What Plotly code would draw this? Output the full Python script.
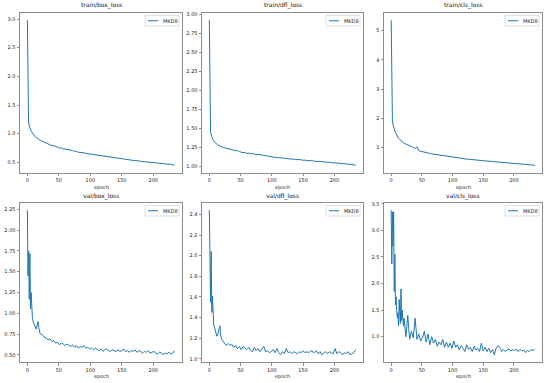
import plotly.graph_objects as go

# ---------------- data ----------------
EPOCHS_EARLY = list(range(0, 21))
EPOCHS_LATE = list(range(21, 235, 3))
EPOCHS = EPOCHS_EARLY + EPOCHS_LATE

SERIES_NAME = "MKD8"

train_box_early = [2.98, 1.32, 1.20, 1.13, 1.09, 1.07, 1.05, 1.03, 1.01, 0.99, 0.97,
                   0.96, 0.95, 0.94, 0.93, 0.925, 0.915, 0.91, 0.90, 0.895, 0.885]
train_box_late = [0.88, 0.865, 0.85, 0.84, 0.82, 0.815, 0.79, 0.79, 0.77, 0.765, 0.75,
                  0.75, 0.735, 0.73, 0.72, 0.715, 0.705, 0.705, 0.69, 0.69, 0.675, 0.675,
                  0.665, 0.665, 0.655, 0.65, 0.64, 0.645, 0.63, 0.63, 0.62, 0.62, 0.61,
                  0.61, 0.60, 0.60, 0.59, 0.59, 0.58, 0.58, 0.57, 0.57, 0.56, 0.565,
                  0.55, 0.553, 0.545, 0.545, 0.535, 0.535, 0.528, 0.53, 0.52, 0.52,
                  0.51, 0.512, 0.505, 0.505, 0.497, 0.50, 0.49, 0.492, 0.485, 0.485,
                  0.477, 0.478, 0.47, 0.472, 0.463, 0.465, 0.455, 0.448]

train_dfl_early = [2.92, 1.52, 1.46, 1.41, 1.38, 1.36, 1.345, 1.33, 1.32, 1.31, 1.30,
                   1.29, 1.285, 1.28, 1.275, 1.27, 1.27, 1.26, 1.265, 1.255, 1.25]
train_dfl_late = [1.25, 1.24, 1.235, 1.225, 1.23, 1.215, 1.21, 1.20, 1.205, 1.19, 1.18,
                  1.175, 1.18, 1.165, 1.17, 1.16, 1.165, 1.155, 1.15, 1.155, 1.145, 1.145,
                  1.14, 1.135, 1.13, 1.13, 1.12, 1.12, 1.115, 1.11, 1.11, 1.105, 1.105,
                  1.10, 1.10, 1.095, 1.095, 1.09, 1.09, 1.085, 1.085, 1.08, 1.082, 1.075,
                  1.078, 1.07, 1.072, 1.068, 1.07, 1.062, 1.065, 1.06, 1.06, 1.055,
                  1.057, 1.05, 1.052, 1.045, 1.048, 1.04, 1.043, 1.038, 1.04, 1.032,
                  1.035, 1.028, 1.03, 1.022, 1.025, 1.018, 1.02, 1.01]

train_cls_early = [5.35, 2.30, 1.95, 1.78, 1.68, 1.62, 1.57, 1.52, 1.47, 1.42, 1.38,
                   1.35, 1.32, 1.30, 1.28, 1.26, 1.24, 1.22, 1.20, 1.18, 1.16]
train_cls_late = [1.15, 1.12, 1.10, 1.07, 1.04, 1.01, 0.97, 1.03, 0.90, 0.88, 0.86,
                  0.85, 0.83, 0.81, 0.80, 0.79, 0.78, 0.77, 0.75, 0.75, 0.73, 0.72,
                  0.71, 0.70, 0.69, 0.68, 0.67, 0.665, 0.65, 0.645, 0.64, 0.63, 0.625,
                  0.62, 0.61, 0.60, 0.60, 0.59, 0.585, 0.58, 0.575, 0.57, 0.56, 0.555,
                  0.55, 0.545, 0.54, 0.535, 0.53, 0.52, 0.515, 0.51, 0.505, 0.50,
                  0.495, 0.49, 0.485, 0.48, 0.475, 0.47, 0.465, 0.46, 0.455, 0.45,
                  0.445, 0.44, 0.435, 0.43, 0.425, 0.42, 0.41, 0.40]

val_box_early = [2.24, 1.45, 1.75, 1.17, 1.72, 1.05, 1.25, 1.00, 0.95, 0.90, 0.88,
                 0.86, 0.83, 0.82, 0.81, 0.84, 0.86, 0.90, 0.83, 0.78, 0.76]
val_box_late = [0.75, 0.74, 0.71, 0.70, 0.68, 0.69, 0.66, 0.67, 0.64, 0.65, 0.62,
                0.64, 0.63, 0.61, 0.63, 0.61, 0.60, 0.62, 0.59, 0.61, 0.58, 0.60,
                0.59, 0.61, 0.58, 0.59, 0.57, 0.58, 0.56, 0.58, 0.56, 0.55, 0.57,
                0.54, 0.56, 0.57, 0.55, 0.54, 0.56, 0.55, 0.54, 0.56, 0.54, 0.55,
                0.57, 0.54, 0.55, 0.53, 0.55, 0.54, 0.56, 0.53, 0.55, 0.54, 0.52,
                0.54, 0.53, 0.55, 0.52, 0.53, 0.54, 0.52, 0.51, 0.53, 0.52, 0.50,
                0.52, 0.51, 0.53, 0.51, 0.52, 0.55]

val_dfl_early = [2.44, 1.90, 1.55, 2.04, 1.45, 1.61, 1.40, 1.33, 1.31, 1.29, 1.26,
                 1.24, 1.22, 1.23, 1.26, 1.29, 1.31, 1.32, 1.23, 1.20, 1.19]
val_dfl_late = [1.18, 1.16, 1.13, 1.15, 1.13, 1.14, 1.11, 1.13, 1.10, 1.12, 1.09,
                1.12, 1.10, 1.09, 1.11, 1.08, 1.07, 1.11, 1.08, 1.10, 1.07, 1.09,
                1.12, 1.07, 1.08, 1.06, 1.07, 1.09, 1.06, 1.10, 1.06, 1.04, 1.07,
                1.05, 1.10, 1.06, 1.07, 1.05, 1.07, 1.06, 1.05, 1.07, 1.06, 1.08,
                1.06, 1.07, 1.06, 1.08, 1.07, 1.06, 1.08, 1.05, 1.07, 1.04, 1.06,
                1.07, 1.05, 1.07, 1.06, 1.05, 1.10, 1.05, 1.07, 1.06, 1.04, 1.06,
                1.05, 1.07, 1.04, 1.05, 1.06, 1.09]

val_cls_early = [3.38, 2.37, 3.35, 2.70, 3.35, 1.85, 2.55, 1.60, 1.75, 1.50, 1.35,
                 1.45, 1.20, 1.70, 1.30, 1.25, 1.90, 1.30, 1.50, 1.25, 1.20]
val_cls_late = [1.35, 1.00, 1.40, 0.95, 1.10, 0.98, 1.35, 0.95, 1.05, 0.92, 0.98,
                1.10, 0.90, 1.05, 0.85, 1.00, 0.88, 0.95, 0.82, 0.90, 0.85, 0.95,
                0.80, 0.90, 0.80, 0.88, 0.78, 0.92, 0.80, 0.85, 0.75, 0.83, 0.78,
                0.72, 0.85, 0.76, 0.80, 0.72, 0.82, 0.75, 0.78, 0.72, 0.88, 0.73,
                0.80, 0.72, 0.78, 0.70, 0.76, 0.66, 0.78, 0.83, 0.80, 0.72, 0.76,
                0.72, 0.75, 0.77, 0.73, 0.76, 0.74, 0.77, 0.72, 0.76, 0.73, 0.75,
                0.70, 0.74, 0.72, 0.76, 0.74, 0.76]

TITLES = ["train/box_loss", "train/dfl_loss", "train/cls_loss",
          "val/box_loss", "val/dfl_loss", "val/cls_loss"]
VALUES = [train_box_early + train_box_late,
          train_dfl_early + train_dfl_late,
          train_cls_early + train_cls_late,
          val_box_early + val_box_late,
          val_dfl_early + val_dfl_late,
          val_cls_early + val_cls_late]
X_TICKS = [0, 50, 100, 150, 200]
Y_TICKS = [[0.5, 1.0, 1.5, 2.0, 2.5, 3.0],
           [1.00, 1.25, 1.50, 1.75, 2.00, 2.25, 2.50, 2.75, 3.00],
           [1, 2, 3, 4, 5],
           [0.50, 0.75, 1.00, 1.25, 1.50, 1.75, 2.00, 2.25],
           [1.0, 1.2, 1.4, 1.6, 1.8, 2.0, 2.2, 2.4],
           [1.0, 1.5, 2.0, 2.5, 3.0, 3.5]]
Y_FMT = [".1f", ".2f", "d", ".2f", ".1f", ".1f"]
X_LABEL = "epoch"

# ---------------- layout ----------------
W, H = 550, 383
XDOM_PX = [(20, 182), (202, 363), (384, 542)]   # page pixels
YDOM_PX = [(13, 172.5), (203, 362)]
LINE_COLOR = "#1f77b4"
FRAME = "#8c8c8c"
TXT = "#222222"
FONT = "DejaVu Sans"


def px(xp):
    return xp / W


def py(yp):
    return (H - yp) / H


fig = go.Figure()
layout = dict(template="none", width=W, height=H,
              margin=dict(l=0, r=0, t=0, b=0, pad=0),
              paper_bgcolor="white", plot_bgcolor="white",
              font=dict(family=FONT, size=5, color=TXT),
              showlegend=False, annotations=[], shapes=[])

for i in range(6):
    r, c = divmod(i, 3)
    x0, x1 = XDOM_PX[c]
    ytop, ybot = YDOM_PX[r]
    xd = [px(x0), px(x1)]
    yd = [py(ybot), py(ytop)]
    n = i + 1
    xa = f"xaxis{n}" if n > 1 else "xaxis"
    ya = f"yaxis{n}" if n > 1 else "yaxis"
    vals = VALUES[i]
    vmin, vmax = min(vals), max(vals)
    pad = 0.05 * (vmax - vmin)
    xmin, xmax = min(EPOCHS), max(EPOCHS)
    xpad = 0.05 * (xmax - xmin)

    fig.add_trace(go.Scatter(x=EPOCHS, y=vals, mode="lines", name=SERIES_NAME,
                             line=dict(color=LINE_COLOR, width=1),
                             xaxis=f"x{n}" if n > 1 else "x",
                             yaxis=f"y{n}" if n > 1 else "y"))
    axis_common = dict(showline=True, mirror=True, linecolor=FRAME, linewidth=1,
                       ticks="outside", ticklen=2.5, tickwidth=0.7, tickcolor=FRAME,
                       showgrid=False, zeroline=False, automargin=False,
                       tickfont=dict(size=5, color=TXT, family=FONT))
    layout[xa] = dict(domain=xd, range=[xmin - xpad, xmax + xpad],
                      tickvals=X_TICKS, anchor=f"y{n}" if n > 1 else "y",
                      **axis_common)
    layout[ya] = dict(domain=yd, range=[vmin - pad, vmax + pad],
                      tickvals=Y_TICKS[i], tickformat=Y_FMT[i],
                      anchor=f"x{n}" if n > 1 else "x", **axis_common)

    # legend box (upper right, matplotlib style)
    lx1 = x1 - 3
    lx0 = lx1 - 34
    ly0 = ytop + 2.5
    ly1 = ly0 + 10.5
    ym = (ly0 + ly1) / 2
    layout["shapes"].append(dict(type="rect", xref="paper", yref="paper",
                                 x0=px(lx0), x1=px(lx1), y0=py(ly1), y1=py(ly0),
                                 line=dict(color="#d6d6d6", width=0.8),
                                 fillcolor="rgba(255,255,255,0.8)"))
    layout["shapes"].append(dict(type="line", xref="paper", yref="paper",
                                 x0=px(lx0 + 3), x1=px(lx0 + 13),
                                 y0=py(ym), y1=py(ym),
                                 line=dict(color=LINE_COLOR, width=1)))
    layout["annotations"].append(dict(text=SERIES_NAME, x=px(lx0 + 16), y=py(ym),
                                      xref="paper", yref="paper", xanchor="left",
                                      yanchor="middle", showarrow=False,
                                      font=dict(size=5, color=TXT, family=FONT)))

    layout["annotations"].append(dict(text=TITLES[i], x=(xd[0] + xd[1]) / 2,
                                      y=py(ytop - 1.5), xref="paper", yref="paper",
                                      xanchor="center", yanchor="bottom",
                                      showarrow=False,
                                      font=dict(size=6, color="#111", family=FONT)))
    layout["annotations"].append(dict(text=X_LABEL, x=(xd[0] + xd[1]) / 2,
                                      y=py(ybot + 9), xref="paper", yref="paper",
                                      xanchor="center", yanchor="top",
                                      showarrow=False,
                                      font=dict(size=5, color=TXT, family=FONT)))

fig.update_layout(**layout)
fig.write_html("out.html",
               config={"displayModeBar": False},
               post_script="document.body.style.margin='0px';"
                           "document.body.style.padding='0px';")
